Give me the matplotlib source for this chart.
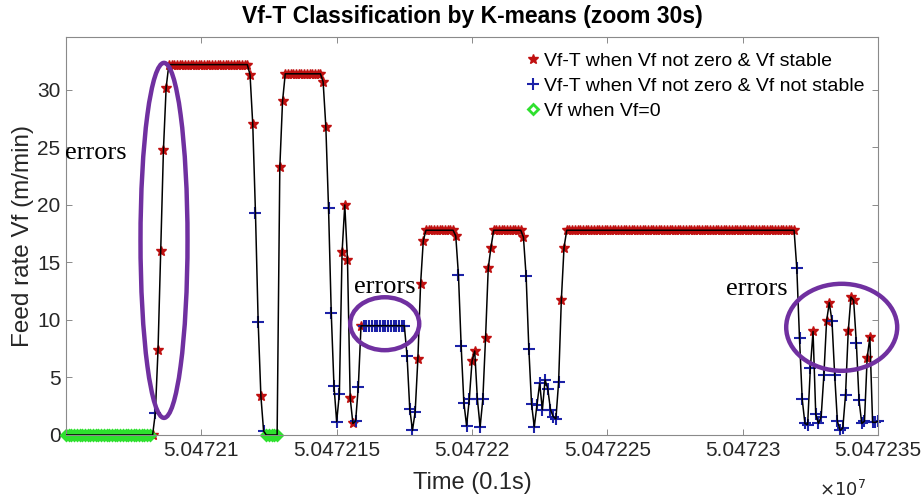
import numpy as np
import matplotlib.pyplot as plt
from matplotlib.patches import Ellipse
from matplotlib.ticker import FuncFormatter

plt.rcParams['font.family'] = ['Liberation Sans', 'DejaVu Sans']

# time axis is in units of 0.1 s, one sample per 0.1 s
t_start = 50472050

# feed rate Vf (m/min), sample by sample
vf = ([0.0] * 32 + [0.0, 1.9, 7.4, 16.0, 24.8, 30.2] + [32.2] * 30
      + [31.3, 27.0, 19.3, 9.8, 3.4, 0.35] + [0.0] * 5 + [23.3, 29.0] + [31.4] * 14
      + [30.7, 26.8, 19.7, 10.6, 4.3, 1.15, 3.6, 15.9, 20.0, 15.2, 3.2, 1.0, 1.2, 4.2, 9.5]
      + [9.5] * 16
      + [6.9, 2.3, 0.4, 2.0, 6.6, 13.1, 16.9] + [17.8] * 11
      + [17.3, 13.9, 7.7, 2.8, 0.8, 3.1, 6.4, 7.3, 3.1, 0.7, 3.1, 8.4, 14.5, 16.3] + [17.8] * 11
      + [17.2, 13.8, 7.5, 2.7, 0.7, 2.6, 4.5, 2.2, 4.8, 4.0, 2.2, 1.6, 1.4, 4.6, 11.7, 16.3]
      + [17.8] * 85
      + [14.5, 8.4, 3.1, 1.0, 0.9, 5.8, 9.0, 1.8, 1.0, 1.6, 5.2, 9.9, 11.5, 9.9, 5.2, 1.2,
         0.4, 0.6, 3.5, 9.0, 12.0, 11.7, 8.0, 3.0, 1.0, 1.2, 6.7, 8.5, 1.1, 1.1, 1.2])

# k-means class per sample: r = stable, b = not stable, g = Vf zero
vf_class = ("g" * 32 + "rbrrrr" + "r" * 30
            + "rrbbrb" + "g" * 5 + "rr" + "r" * 14
            + "rrbbbbbrrrrrbbr" + "b" * 16
            + "bbbbrrr" + "r" * 11
            + "rbbbbbrrbbbrrr" + "r" * 11
            + "r" + "b" * 13 + "rr" + "r" * 85
            + "bbbbbbrbbbbrrbbbbbbrrrbbbbrrbbb")

labels = {'r': 'Vf-T when Vf not zero & Vf stable',
          'b': 'Vf-T when Vf not zero & Vf not stable',
          'g': 'Vf when Vf=0'}
x_ticks = [50472100, 50472150, 50472200, 50472250, 50472300, 50472350]

vf = np.array(vf)
cls = np.array(list(vf_class))
t = t_start + np.arange(len(vf))

fig = plt.figure(figsize=(9.24, 5.0), dpi=100)
ax = fig.add_axes([66/924, 65/500, 812/924, 398/500])

m = cls == 'r'
ax.plot(t[m], vf[m], ls='none', marker='*', ms=7, color='#c01010', mec='#c01010',
        label=labels['r'], zorder=2, clip_on=False)
m = cls == 'b'
ax.plot(t[m], vf[m], ls='none', marker='+', ms=8.5, mew=1.5, color='#1c22a8',
        label=labels['b'], zorder=2, clip_on=False)
m = cls == 'g'
ax.plot(t[m], vf[m], ls='none', marker='D', ms=5.5, mfc='none', mew=2.0, color='#2ee02e',
        label=labels['g'], zorder=2, clip_on=False)
ax.plot(t, vf, color='black', lw=1.1, zorder=3)

ax.set_xlim(t_start, t_start + 300)
ax.set_ylim(0, 34.6)
ax.set_xticks(x_ticks)
ax.xaxis.set_major_formatter(FuncFormatter(lambda v, p: ('%.7f' % (v / 1e7)).rstrip('0')))
ax.set_yticks([0, 5, 10, 15, 20, 25, 30])

for s in ax.spines.values():
    s.set_color('#8a8a8a')
    s.set_linewidth(0.8)
ax.tick_params(direction='in', top=True, right=True, length=4, width=0.7,
               color='#8a8a8a', labelsize=15, labelcolor='#262626', pad=4)

ax.set_xlabel('Time (0.1s)', fontsize=17, color='#262626', labelpad=9)
ax.set_ylabel('Feed rate Vf (m/min)', fontsize=17.5, color='#262626', labelpad=2)
ax.set_title('Vf-T Classification by K-means (zoom 30s)', fontsize=16.5,
             fontweight='bold', pad=10)
fig.text(866/924, 4/500, r'$\times10^{7}$', ha='right', va='baseline', fontsize=13,
         color='#262626')

ax.legend(loc='upper left', bbox_to_anchor=(0.565, 0.962), frameon=False, fontsize=14,
          handlelength=0.8, handletextpad=0.2, labelspacing=0.38, borderaxespad=0,
          borderpad=0, markerscale=1.0)

purple = '#7030a0'
for (cx, cy, w, h) in [(0.1207, 0.489, 0.0579, 0.892),
                       (0.3925, 0.2796, 0.085, 0.133),
                       (0.9553, 0.2706, 0.1367, 0.2186)]:
    ax.add_patch(Ellipse((cx, cy), w, h, transform=ax.transAxes, fill=False,
                         ec=purple, lw=3.2, zorder=4, clip_on=False))

for (tx, ty) in [(-0.001, 0.693), (0.355, 0.357), (0.813, 0.352)]:
    ax.text(tx, ty, 'errors', transform=ax.transAxes, fontsize=19,
            family='Liberation Serif', ha='left', va='baseline', zorder=5)

fig.savefig('out.png', dpi=100)
